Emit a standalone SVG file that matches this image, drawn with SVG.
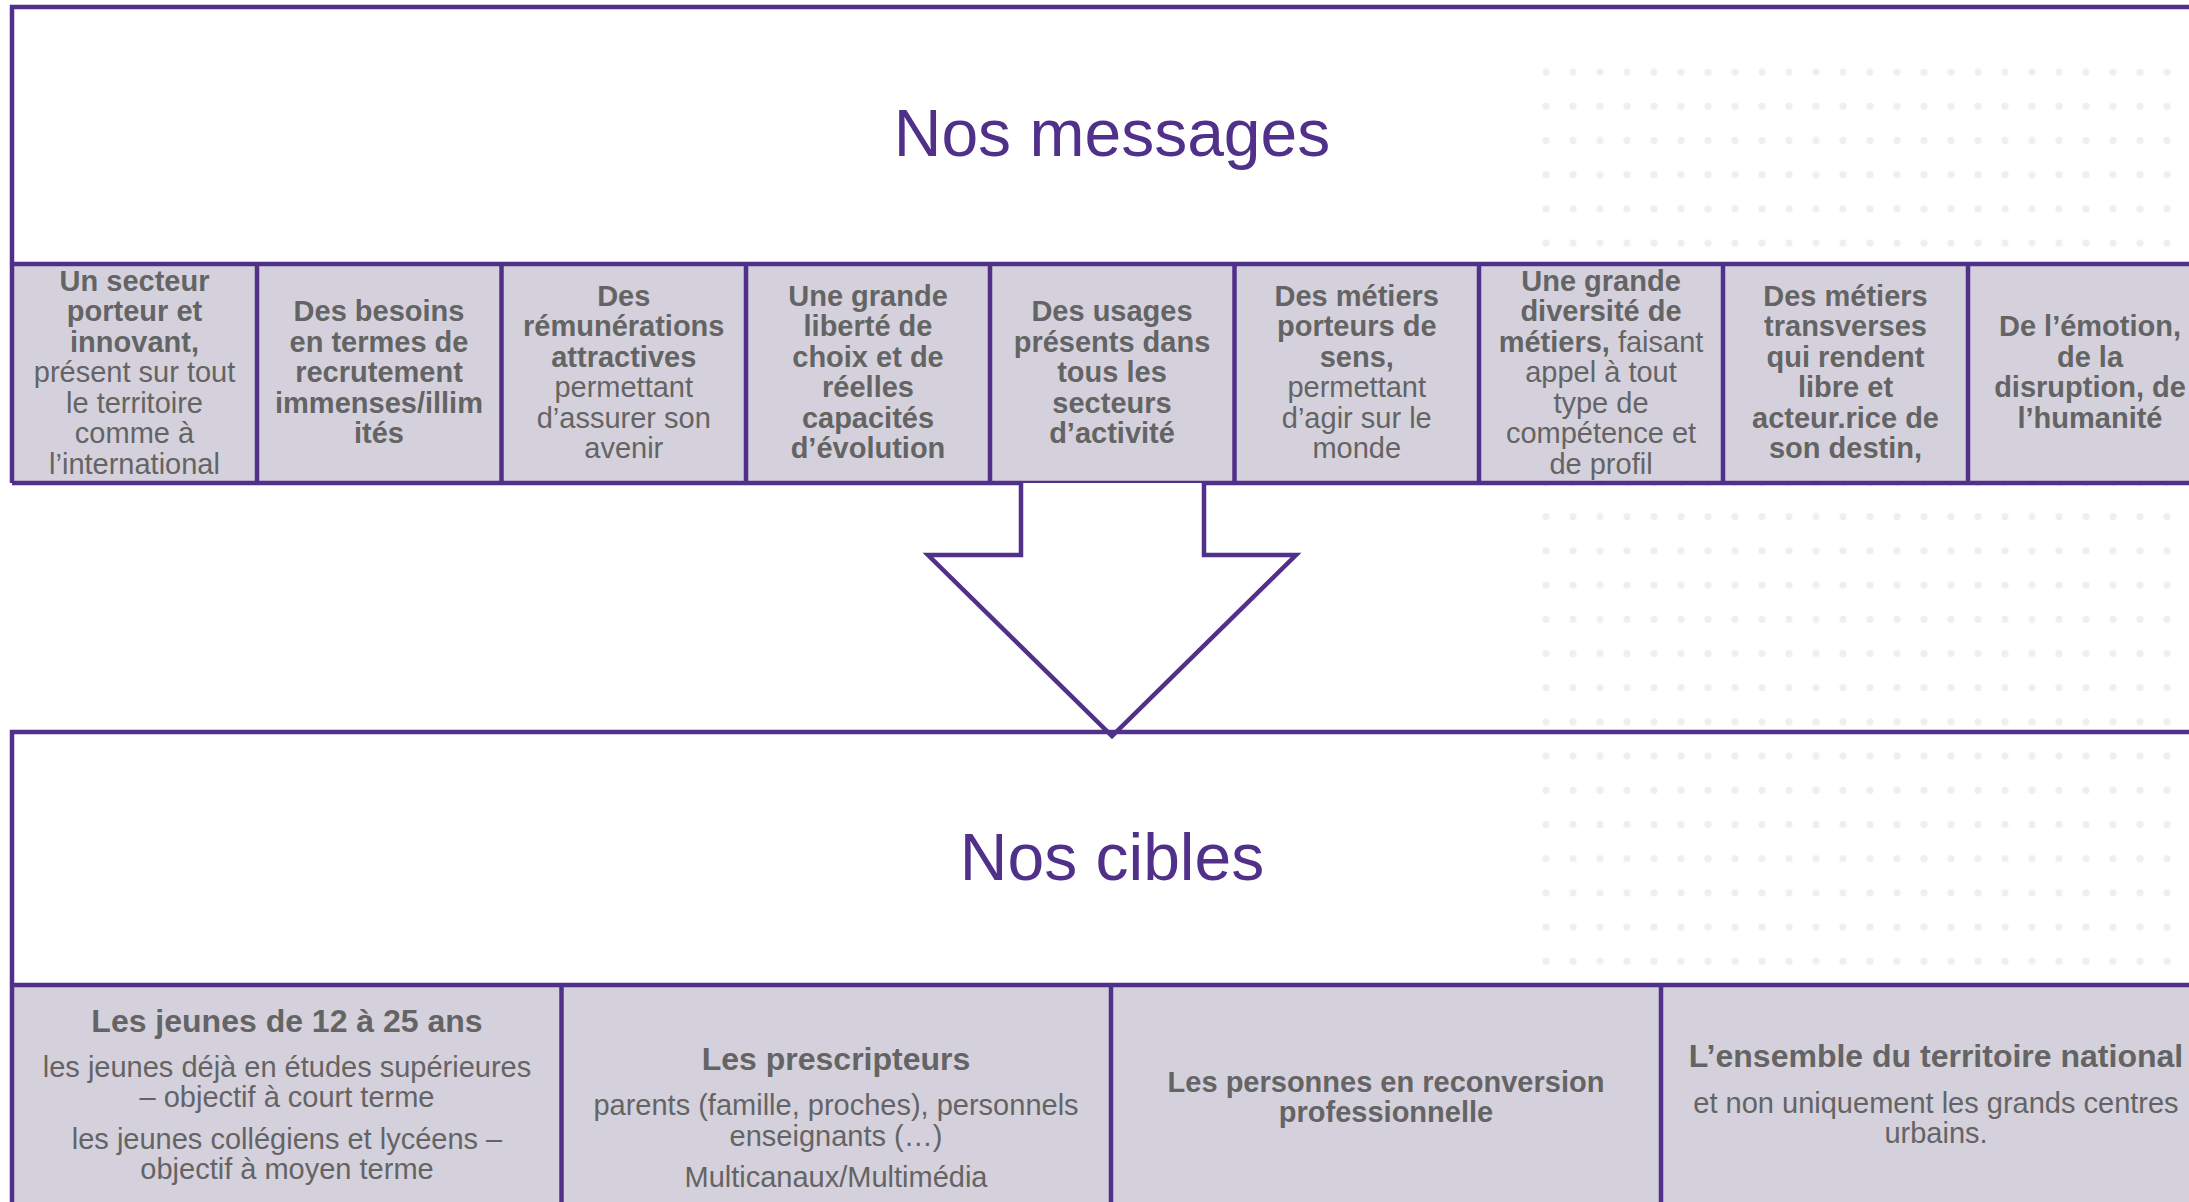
<svg xmlns="http://www.w3.org/2000/svg" width="2189" height="1202" viewBox="0 0 2189 1202">
<style>
.frame{fill:none;stroke:#51308a;stroke-width:4.5}
.div{fill:none;stroke:#51308a;stroke-width:4.5}
.cell{fill:#d4d1dc}
.title{font-family:"Liberation Sans",Arial,sans-serif;font-size:66px;fill:#51308a;text-anchor:middle}
.txt{font-family:"Liberation Sans",Arial,sans-serif;font-size:29px;fill:#646464;text-anchor:middle}
.b{font-weight:bold}
.h{font-size:32px;font-weight:bold}
</style>
<defs>
<pattern id="dots" x="1532.5" y="55" width="27" height="34.2" patternUnits="userSpaceOnUse">
<circle cx="13.5" cy="17.1" r="3.6" fill="#efefef"/>
</pattern>
</defs>
<rect width="2189" height="1202" fill="#ffffff"/>
<rect x="1532.5" y="55" width="660" height="1150" fill="url(#dots)"/>

<g id="messages-panel">
<rect class="cell" x="12" y="264" width="2200" height="219"/>
<path class="frame" d="M12,483 V7 H2200"/>
<path class="div" d="M12,264 H2200 M12,483 H2200"/>
<path class="div" d="M257,264 V483 M501.5,264 V483 M746,264 V483 M990,264 V483 M1234.5,264 V483 M1479,264 V483 M1723,264 V483 M1968,264 V483"/>
<text class="title" x="1112" y="156">Nos messages</text>
</g>

<g id="msg1">
<text class="txt"><tspan class="b" x="134.5" y="290.5">Un secteur</tspan><tspan class="b" x="134.5" y="321">porteur et</tspan><tspan class="b" x="134.5" y="351.5">innovant,</tspan><tspan x="134.5" y="382">présent sur tout</tspan><tspan x="134.5" y="412.5">le territoire</tspan><tspan x="134.5" y="443">comme à</tspan><tspan x="134.5" y="473.5">l’international</tspan></text>
</g>
<g id="msg2">
<text class="txt b"><tspan x="379" y="321">Des besoins</tspan><tspan x="379" y="351.5">en termes de</tspan><tspan x="379" y="382">recrutement</tspan><tspan x="379" y="412.5">immenses/illim</tspan><tspan x="379" y="443">ités</tspan></text>
</g>
<g id="msg3">
<text class="txt"><tspan class="b" x="623.75" y="305.75">Des</tspan><tspan class="b" x="623.75" y="336.25">rémunérations</tspan><tspan class="b" x="623.75" y="366.75">attractives</tspan><tspan x="623.75" y="397.25">permettant</tspan><tspan x="623.75" y="427.75">d’assurer son</tspan><tspan x="623.75" y="458.25">avenir</tspan></text>
</g>
<g id="msg4">
<text class="txt b"><tspan x="868" y="305.75">Une grande</tspan><tspan x="868" y="336.25">liberté de</tspan><tspan x="868" y="366.75">choix et de</tspan><tspan x="868" y="397.25">réelles</tspan><tspan x="868" y="427.75">capacités</tspan><tspan x="868" y="458.25">d’évolution</tspan></text>
</g>
<g id="msg5">
<text class="txt b"><tspan x="1112" y="321">Des usages</tspan><tspan x="1112" y="351.5">présents dans</tspan><tspan x="1112" y="382">tous les</tspan><tspan x="1112" y="412.5">secteurs</tspan><tspan x="1112" y="443">d’activité</tspan></text>
</g>
<g id="msg6">
<text class="txt"><tspan class="b" x="1356.75" y="305.75">Des métiers</tspan><tspan class="b" x="1356.75" y="336.25">porteurs de</tspan><tspan class="b" x="1356.75" y="366.75">sens,</tspan><tspan x="1356.75" y="397.25">permettant</tspan><tspan x="1356.75" y="427.75">d’agir sur le</tspan><tspan x="1356.75" y="458.25">monde</tspan></text>
</g>
<g id="msg7">
<text class="txt"><tspan class="b" x="1601" y="290.5">Une grande</tspan><tspan class="b" x="1601" y="321">diversité de</tspan><tspan x="1601" y="351.5"><tspan class="b">métiers,</tspan> faisant</tspan><tspan x="1601" y="382">appel à tout</tspan><tspan x="1601" y="412.5">type de</tspan><tspan x="1601" y="443">compétence et</tspan><tspan x="1601" y="473.5">de profil</tspan></text>
</g>
<g id="msg8">
<text class="txt b"><tspan x="1845.5" y="305.75">Des métiers</tspan><tspan x="1845.5" y="336.25">transverses</tspan><tspan x="1845.5" y="366.75">qui rendent</tspan><tspan x="1845.5" y="397.25">libre et</tspan><tspan x="1845.5" y="427.75">acteur.rice de</tspan><tspan x="1845.5" y="458.25">son destin,</tspan></text>
</g>
<g id="msg9">
<text class="txt b"><tspan x="2090" y="336.25">De l’émotion,</tspan><tspan x="2090" y="366.75">de la</tspan><tspan x="2090" y="397.25">disruption, de</tspan><tspan x="2090" y="427.75">l’humanité</tspan></text>
</g>

<g id="connectors">
<polyline points="1021,483 1021,555 928,555 1112,736 1296,555 1204,555 1204,483" fill="#ffffff" stroke="#51308a" stroke-width="4.5" stroke-linejoin="miter"/>
</g>

<g id="cibles-panel">
<rect class="cell" x="12" y="985" width="2200" height="230"/>
<path class="frame" d="M12,1210 V732 H2200"/>
<path class="div" d="M12,985 H2200"/>
<path class="div" stroke-width="4" d="M561.5,985 V1210 M1111,985 V1210 M1661,985 V1210"/>
<text class="title" x="1112" y="880">Nos cibles</text>
</g>

<g id="cible1">
<text class="txt"><tspan class="h" x="287" y="1032">Les jeunes de 12 à 25 ans</tspan><tspan x="287" y="1077">les jeunes déjà en études supérieures</tspan><tspan x="287" y="1107">– objectif à court terme</tspan><tspan x="287" y="1149">les jeunes collégiens et lycéens –</tspan><tspan x="287" y="1179">objectif à moyen terme</tspan></text>
</g>
<g id="cible2">
<text class="txt"><tspan class="h" x="836" y="1070">Les prescripteurs</tspan><tspan x="836" y="1115">parents (famille, proches), personnels</tspan><tspan x="836" y="1146">enseignants (…)</tspan><tspan x="836" y="1187">Multicanaux/Multimédia</tspan></text>
</g>
<g id="cible3">
<text class="txt b"><tspan x="1386" y="1092">Les personnes en reconversion</tspan><tspan x="1386" y="1122">professionnelle</tspan></text>
</g>
<g id="cible4">
<text class="txt"><tspan class="h" x="1936" y="1067">L’ensemble du territoire national</tspan><tspan x="1936" y="1113">et non uniquement les grands centres</tspan><tspan x="1936" y="1143">urbains.</tspan></text>
</g>
</svg>
